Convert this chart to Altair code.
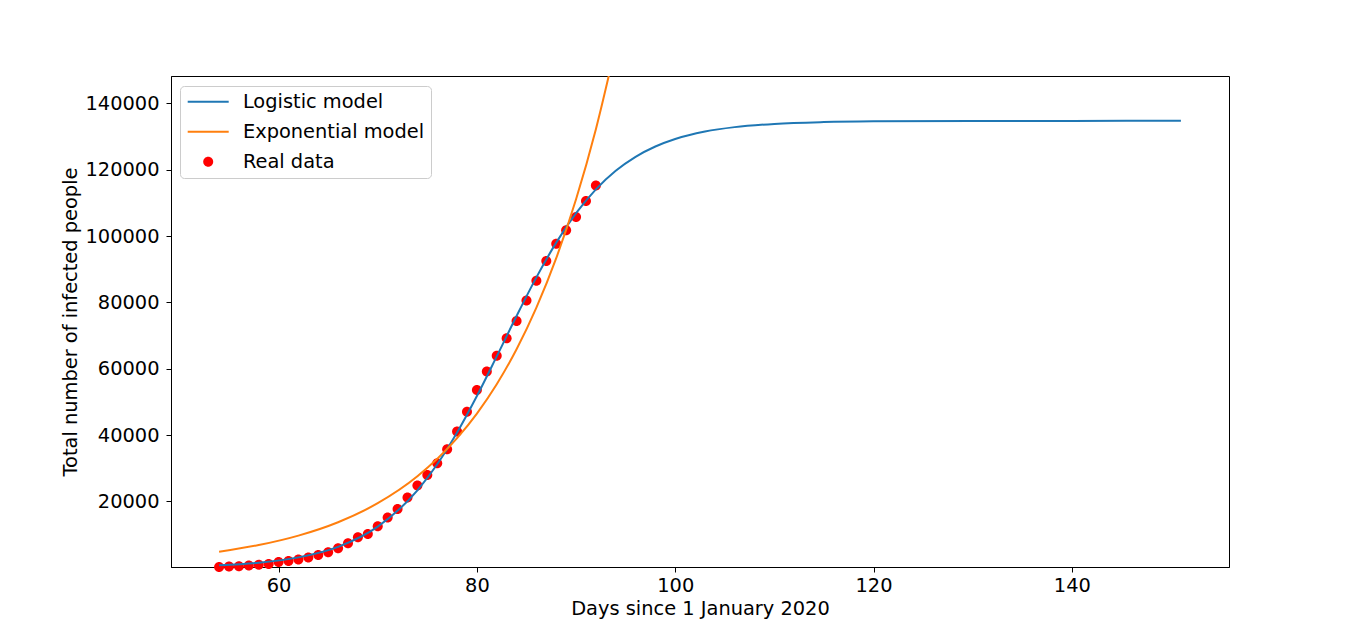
import altair as alt
import pandas as pd

# Real data (days since 1 Jan 2020, total infected)
days_real = [54, 55, 56, 57, 58, 59, 60, 61, 62, 63, 64, 65, 66, 67, 68, 69, 70,
             71, 72, 73, 74, 75, 76, 77, 78, 79, 80, 81, 82, 83, 84, 85, 86, 87,
             88, 89, 90, 91, 92]
cases_real = [229, 322, 400, 650, 888, 1128, 1694, 2036, 2502, 3089, 3858, 4636,
              5883, 7375, 9172, 10149, 12462, 15113, 17660, 21157, 24747, 27980,
              31506, 35713, 41035, 47021, 53578, 59138, 63927, 69176, 74386, 80539,
              86498, 92472, 97689, 101739, 105792, 110574, 115242]

# Logistic model curve
days_log = [54, 58, 62, 66, 70, 74, 76, 78, 80, 82, 84, 86, 88, 90, 92, 94, 96,
            98, 100, 103, 106, 110, 115, 120, 130, 140, 151]
vals_log = [739, 1521, 3112, 6282, 12380, 23325, 31192, 40735, 51750, 63712,
            75903, 87557, 98029, 106902, 114100, 119693, 123908, 127027, 129281,
            131528, 132863, 133832, 134378, 134600, 134726, 134746, 134750]

# Exponential model curve
days_exp = [54, 58, 62, 66, 70, 74, 78, 80, 82, 84, 86, 88, 90, 92, 94]
vals_exp = [4817, 6827, 9676, 13714, 19437, 27548, 39044, 46480, 55330, 65860,
            78400, 93330, 111100, 132250, 157430]

series_names = ["Logistic model", "Exponential model", "Real data"]
series_colors = ["#1f77b4", "#ff7f0e", "#ff0000"]
LINE_SHAPE = "M-4.1,-0.2H4.1V0.2H-4.1Z"
DOT_SHAPE = "M-1,0A1,1,0,1,1,1,0A1,1,0,1,1,-1,0Z"
series_shapes = [LINE_SHAPE, LINE_SHAPE, DOT_SHAPE]
SYM = 100

df_real = pd.DataFrame({"day": days_real, "value": cases_real, "series": "Real data"})
df_log = pd.DataFrame({"day": days_log, "value": vals_log, "series": "Logistic model"})
df_exp = pd.DataFrame({"day": days_exp, "value": vals_exp, "series": "Exponential model"})

FONT = "DejaVu Sans"
FS = 19.4

x_enc = alt.X("day:Q",
              scale=alt.Scale(domain=[49.15, 155.85], nice=False, zero=False),
              axis=alt.Axis(values=[60, 80, 100, 120, 140], format="d",
                            title="Days since 1 January 2020"))
y_enc = alt.Y("value:Q",
              scale=alt.Scale(domain=[206, 148280], nice=False, zero=False),
              axis=alt.Axis(values=[20000, 40000, 60000, 80000, 100000, 120000, 140000],
                            format="d", title="Total number of infected people"))

legend = alt.Legend(
    orient="none", legendX=9, legendY=10,
    labelFontSize=FS, labelFont=FONT, labelColor="black", labelOffset=25,
    labelLimit=400, symbolSize=SYM, symbolOffset=12.5,
    fillColor="rgba(255,255,255,0.8)", strokeColor="#cccccc", cornerRadius=4,
    padding=6, rowPadding=9, symbolOpacity=1, symbolStrokeWidth=0,
)

color_enc = alt.Color("series:N",
                      scale=alt.Scale(domain=series_names, range=series_colors),
                      legend=legend, title=None)
shape_enc = alt.Shape("series:N",
                      scale=alt.Scale(domain=series_names, range=series_shapes),
                      title=None)

points = alt.Chart(df_real).mark_point(filled=True, opacity=1, strokeWidth=0, size=SYM).encode(
    x=x_enc, y=y_enc, color=color_enc, shape=shape_enc)
logistic = alt.Chart(df_log).mark_line(strokeWidth=2, interpolate="monotone", clip=True).encode(
    x=x_enc, y=y_enc, color=color_enc)
exponential = alt.Chart(df_exp).mark_line(strokeWidth=2, interpolate="monotone", clip=True).encode(
    x=x_enc, y=y_enc, color=color_enc)

chart = alt.layer(points, logistic, exponential).properties(
    width=1058, height=491,
    autosize=alt.AutoSizeParams(type="none"),
    padding={"left": 163, "top": 68, "right": 120, "bottom": 55},
).configure(font=FONT).configure_view(
    stroke="black", strokeWidth=1
).configure_axis(
    grid=False, domainColor="black", domainWidth=1, tickColor="black", tickSize=5,
    tickWidth=1, labelFontSize=FS, labelColor="black", labelFont=FONT, labelPadding=4,
    titleFontSize=FS, titleFont=FONT, titleColor="black", titleFontWeight="normal",
).configure_axisX(titlePadding=5).configure_axisY(titlePadding=4, labelPadding=7)

chart.save("out.html", embed_options={"renderer": "svg", "actions": False})
